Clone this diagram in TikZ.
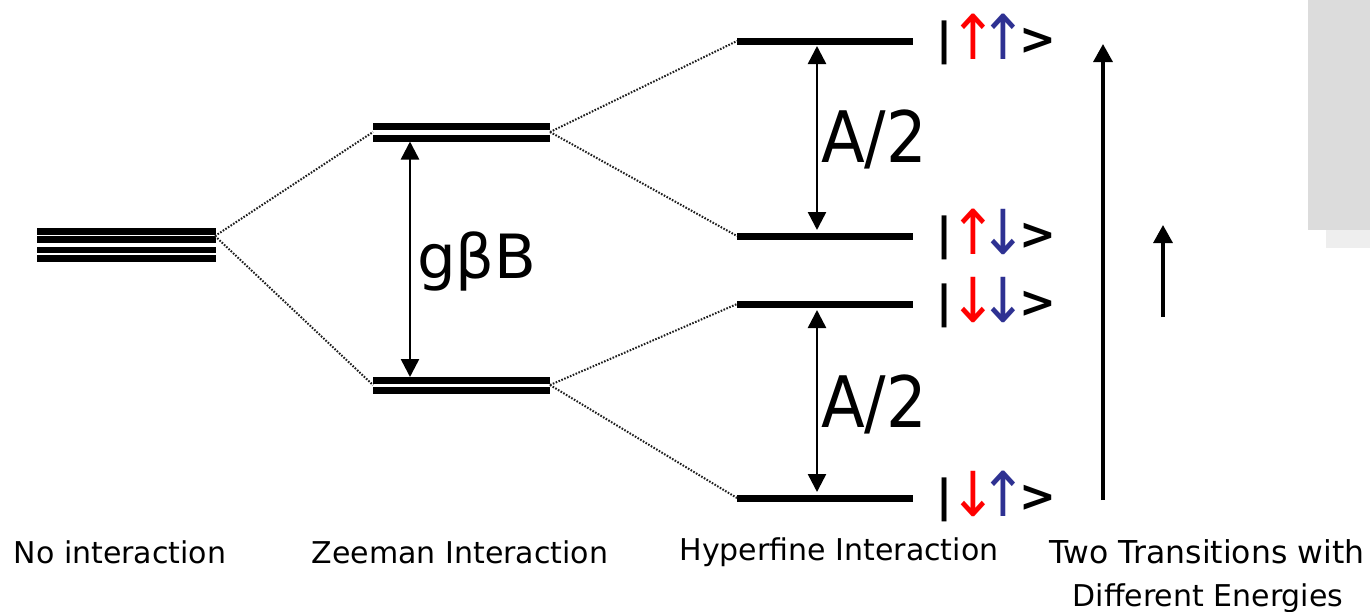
\documentclass[tikz,border=0pt]{standalone}
\usepackage{fontspec}
\setmainfont{DejaVu Sans}
\usetikzlibrary{arrows.meta}
\definecolor{spinred}{RGB}{255,0,0}
\definecolor{spinblue}{RGB}{46,49,146}
\definecolor{panelgray}{RGB}{220,220,220}
\definecolor{panellight}{RGB}{238,238,238}
\definecolor{dotgray}{RGB}{30,30,30}
% |spin spin> ket: bar and bracket in bold, coloured spin arrows
\newcommand\spinarrow[2]{\makebox[30pt][c]{\textcolor{#1}{\raisebox{-5pt}{\scalebox{0.92}[1]{\fontsize{62}{62}\selectfont #2}}}}}
\newcommand\spinket[2]{{\bfseries\fontsize{44}{44}\selectfont |}\hspace{6pt}\spinarrow{spinred}{#1}\spinarrow{spinblue}{#2}\hspace{1pt}{\bfseries\fontsize{44}{44}\selectfont >}}
\begin{document}
\begin{tikzpicture}[x=1pt,y=-1pt,
  energy/.style={line width=7pt},
  zeeman/.style={line width=7pt},
  split/.style={line width=2pt,dotgray,dash pattern=on 1.6pt off 1.5pt},
  gap/.style={line width=2.5pt,{Triangle[width=18pt,length=18pt]}-{Triangle[width=18pt,length=18pt]}},
  trans/.style={line width=3.3pt,-{Triangle[width=19pt,length=18pt]}},
  caption/.style={font=\fontsize{30}{36}\selectfont,inner sep=0pt,anchor=base},
  bigsym/.style={inner sep=0pt,anchor=base west},
  ketlabel/.style={inner sep=0pt,anchor=base west}]
\useasboundingbox (0,0) rectangle (1370,611);

% corner panel
\fill[panelgray] (1308,0) rectangle (1370,230);
\fill[panellight] (1326,230) rectangle (1370,248);

% no interaction: degenerate levels
\foreach \yy in {231.5,239.5,250,258.5}
  \draw[line width=6.5pt] (37,\yy) -- (216,\yy);
\coordinate (n) at (215,236);

% Zeeman levels
\draw[zeeman] (373,126) -- (550,126);
\draw[zeeman] (373,138) -- (550,138);
\draw[zeeman] (373,380.5) -- (550,380.5);
\draw[zeeman] (373,390) -- (550,390);
\coordinate (zuL) at (373,132);
\coordinate (zuR) at (550,132);
\coordinate (zlL) at (373,385);
\coordinate (zlR) at (550,385);
\coordinate (zuB) at (410,141.5);
\coordinate (zlT) at (410,377);

% hyperfine levels
\foreach \name/\yy in {h1/41,h2/236,h3/304,h4/498}{
  \draw[energy] (737,\yy) -- (913,\yy);
  \coordinate (\name) at (737,\yy);
}

% splitting connectors
\draw[split] (n) -- (zuL);
\draw[split] (n) -- (zlL);
\draw[split] (zuR) -- (h1);
\draw[split] (zuR) -- (h2);
\draw[split] (zlR) -- (h3);
\draw[split] (zlR) -- (h4);

% gaps
\draw[gap] (zuB) -- (zlT);
\node[bigsym,font=\fontsize{61}{63}\selectfont] (gb) at (417,278) {gβB};

\coordinate (a1t) at (817,46);
\coordinate (a1b) at (817,230);
\coordinate (a2t) at (817,310);
\coordinate (a2b) at (817,492);
\draw[gap] (a1t) -- (a1b);
\draw[gap] (a2t) -- (a2b);
\node[bigsym,font=\fontsize{71}{73}\selectfont] (aup) at (821,162) {\scalebox{0.9}[1]{A/2}};
\node[bigsym,font=\fontsize{71}{73}\selectfont] (alow) at (821,427) {\scalebox{0.9}[1]{A/2}};

% spin states
\node[ketlabel] (k1) at (936,54) {\spinket{↑}{↑}};
\node[ketlabel] (k2) at (936,249) {\spinket{↑}{↓}};
\node[ketlabel] (k3) at (936,317) {\spinket{↓}{↓}};
\node[ketlabel] (k4) at (936,511) {\spinket{↓}{↑}};

% transitions
\coordinate (t1a) at (1103,500);
\coordinate (t1b) at (1103,44);
\coordinate (t2a) at (1163,317);
\coordinate (t2b) at (1163,225);
\draw[trans] (t1a) -- (t1b);
\draw[trans] (t2a) -- (t2b);

% captions
\node[caption] (c1) at (120,563) {No interaction};
\node[caption] (c2) at (460,563) {Zeeman Interaction};
\node[caption] (c3) at (839,560) {Hyperfine Interaction};
\node[caption,font=\fontsize{31.5}{36}\selectfont] (c4) at (1207,563) {Two Transitions with};
\node[caption] (c5) at (1208,606) {Different Energies};
\end{tikzpicture}
\end{document}
